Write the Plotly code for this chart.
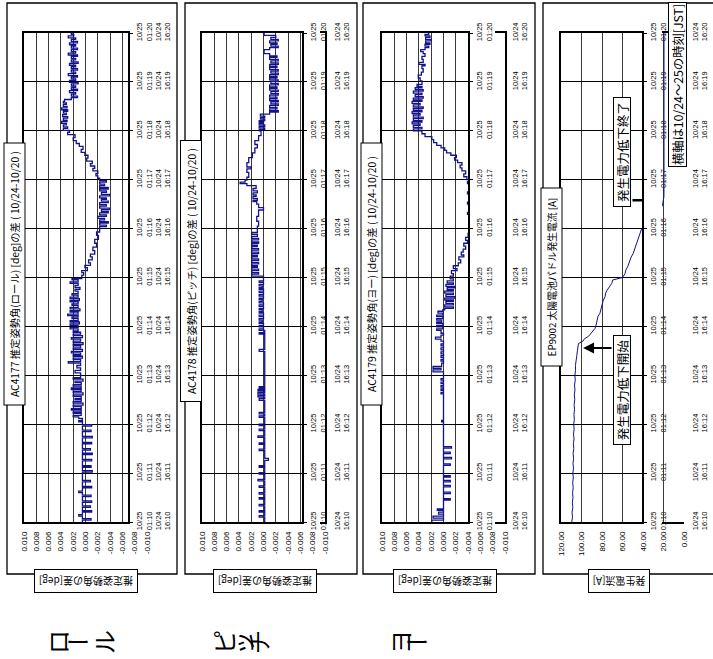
import plotly.graph_objects as go

W, H = 713, 659

# ---------------- data ----------------
# vertical axis: minutes after 10/25 01:10 JST (= 10/24 16:10 UTC)
time_ticks = [0, 1, 2, 3, 4, 5, 6, 7, 8, 9, 10]
jst_labels = ["10/25<br>01:10", "10/25<br>01:11", "10/25<br>01:12", "10/25<br>01:13",
              "10/25<br>01:14", "10/25<br>01:15", "10/25<br>01:16", "10/25<br>01:17",
              "10/25<br>01:18", "10/25<br>01:19", "10/25<br>01:20"]
utc_labels = ["10/24<br>16:10", "10/24<br>16:11", "10/24<br>16:12", "10/24<br>16:13",
              "10/24<br>16:14", "10/24<br>16:15", "10/24<br>16:16", "10/24<br>16:17",
              "10/24<br>16:18", "10/24<br>16:19", "10/24<br>16:20"]

att_ticks = [0.010, 0.008, 0.006, 0.004, 0.002, 0.000, -0.002, -0.004, -0.006, -0.008, -0.010]
att_ticktext = ["0.010", "0.008", "0.006", "0.004", "0.002", "0.000",
                "-0.002", "-0.004", "-0.006", "-0.008", "-0.010"]
cur_ticks = [120, 100, 80, 60, 40, 20, 0]
cur_ticktext = ["120.00", "100.00", "80.00", "60.00", "40.00", "20.00", "0.00"]

# (minute, deg) AC4177 roll difference
roll = [
    (0.00, 0.0005), (0.04, -0.0009), (0.07, 0.0005), (0.12, 0.0011), (0.15, 0.0005),
    (0.20, -0.0010), (0.23, 0.0005), (0.30, -0.0008), (0.33, 0.0005), (0.40, -0.0010),
    (0.43, 0.0005), (0.52, -0.0009), (0.55, 0.0005), (0.60, 0.0011), (0.63, 0.0005),
    (0.70, -0.0010), (0.73, 0.0005), (0.82, -0.0008), (0.85, 0.0005), (1.02, -0.0011),
    (1.05, 0.0005), (1.12, -0.0009), (1.15, 0.0005), (1.25, -0.0010), (1.28, 0.0005),
    (1.38, -0.0011), (1.41, 0.0005), (1.47, -0.0008), (1.50, 0.0005), (1.60, -0.0010),
    (1.63, 0.0005), (1.72, -0.0011), (1.75, 0.0005), (1.85, -0.0009), (1.88, 0.0005),
    (1.96, -0.0010), (1.99, 0.0005), (2.05, 0.0011), (2.08, 0.0005), (2.12, 0.0011),
    (2.15, 0.0020), (2.18, 0.0007), (2.22, 0.0020), (2.25, 0.0007), (2.29, 0.0023),
    (2.32, 0.0007), (2.36, 0.0020), (2.39, 0.0004), (2.43, 0.0020), (2.46, 0.0007),
    (2.50, 0.0017), (2.53, 0.0007), (2.57, 0.0020), (2.60, 0.0004), (2.64, 0.0020),
    (2.67, 0.0007), (2.71, 0.0023), (2.74, 0.0007), (2.78, 0.0020), (2.81, 0.0007),
    (2.85, 0.0017), (2.88, 0.0004), (2.92, 0.0020), (2.95, 0.0008), (3.05, 0.0017),
    (3.10, 0.0008), (3.15, 0.0014), (3.20, 0.0008), (3.25, 0.0028), (3.28, 0.0008),
    (3.32, 0.0020), (3.35, 0.0005), (3.39, 0.0020), (3.42, 0.0008), (3.46, 0.0023),
    (3.49, 0.0005), (3.53, 0.0020), (3.56, 0.0008), (3.60, 0.0020), (3.63, 0.0004),
    (3.67, 0.0020), (3.70, 0.0008), (3.74, 0.0023), (3.77, 0.0005), (3.81, 0.0020),
    (3.84, 0.0008), (3.88, 0.0020), (3.91, 0.0012), (3.95, 0.0025), (3.98, 0.0012),
    (4.02, 0.0025), (4.05, 0.0010), (4.09, 0.0025), (4.12, 0.0012), (4.16, 0.0022),
    (4.19, 0.0012), (4.22, 0.0029), (4.25, 0.0012), (4.29, 0.0025), (4.32, 0.0009),
    (4.36, 0.0025), (4.39, 0.0012), (4.43, 0.0022), (4.46, 0.0012), (4.50, 0.0025),
    (4.53, 0.0010), (4.57, 0.0025), (4.60, 0.0012), (4.64, 0.0022), (4.67, 0.0012),
    (4.72, 0.0017), (4.76, 0.0009), (4.80, 0.0017), (4.84, 0.0012), (4.88, 0.0025),
    (4.91, 0.0012), (4.95, 0.0022), (4.98, 0.0006), (5.05, 0.0003), (5.10, 0.0006),
    (5.14, -0.0003), (5.20, 0.0001), (5.25, -0.0008), (5.30, -0.0005), (5.36, -0.0011),
    (5.42, -0.0008), (5.48, -0.0015), (5.55, -0.0012), (5.62, -0.0018), (5.70, -0.0015),
    (5.78, -0.0021), (5.86, -0.0018), (5.93, -0.0023), (6.00, -0.0023), (6.04, -0.0034),
    (6.07, -0.0023), (6.11, -0.0037), (6.14, -0.0023), (6.18, -0.0031), (6.21, -0.0020),
    (6.25, -0.0034), (6.28, -0.0023), (6.32, -0.0037), (6.35, -0.0026), (6.39, -0.0039),
    (6.42, -0.0023), (6.46, -0.0034), (6.49, -0.0023), (6.53, -0.0037), (6.56, -0.0026),
    (6.60, -0.0034), (6.63, -0.0023), (6.67, -0.0039), (6.70, -0.0026), (6.74, -0.0034),
    (6.77, -0.0023), (6.81, -0.0037), (6.84, -0.0023), (6.88, -0.0031), (6.91, -0.0023),
    (6.95, -0.0034), (6.98, -0.0023), (7.03, -0.0020), (7.08, -0.0017), (7.13, -0.0020),
    (7.18, -0.0012), (7.23, -0.0015), (7.28, -0.0008), (7.33, -0.0011), (7.38, -0.0002),
    (7.44, -0.0004), (7.50, 0.0001), (7.56, 0.0007), (7.62, 0.0004), (7.68, 0.0010),
    (7.74, 0.0015), (7.80, 0.0020), (7.86, 0.0017), (7.92, 0.0029), (7.97, 0.0026),
    (8.01, 0.0036), (8.05, 0.0029), (8.08, 0.0036), (8.12, 0.0031), (8.15, 0.0039),
    (8.19, 0.0030), (8.22, 0.0036), (8.26, 0.0029), (8.29, 0.0037), (8.33, 0.0031),
    (8.36, 0.0036), (8.40, 0.0029), (8.43, 0.0039), (8.47, 0.0030), (8.50, 0.0036),
    (8.54, 0.0031), (8.57, 0.0036), (8.60, 0.0034), (8.64, 0.0023), (8.68, 0.0013),
    (8.71, 0.0023), (8.75, 0.0016), (8.78, 0.0026), (8.82, 0.0013), (8.85, 0.0023),
    (8.89, 0.0016), (8.92, 0.0023), (8.96, 0.0012), (8.99, 0.0026), (9.03, 0.0016),
    (9.06, 0.0023), (9.10, 0.0013), (9.13, 0.0028), (9.17, 0.0016), (9.20, 0.0023),
    (9.24, 0.0013), (9.27, 0.0023), (9.31, 0.0016), (9.34, 0.0026), (9.38, 0.0012),
    (9.41, 0.0023), (9.45, 0.0016), (9.48, 0.0023), (9.52, 0.0013), (9.55, 0.0028),
    (9.59, 0.0016), (9.62, 0.0023), (9.66, 0.0013), (9.69, 0.0023), (9.73, 0.0016),
    (9.76, 0.0026), (9.80, 0.0013), (9.83, 0.0023), (9.87, 0.0016), (9.90, 0.0028),
    (9.94, 0.0019), (9.97, 0.0023), (10.00, 0.0021),
]

# (minute, deg) AC4178 pitch difference
pitch = [
    (0.00, -0.0002), (0.10, 0.0007), (0.13, -0.0002), (0.20, 0.0007), (0.23, -0.0002),
    (0.33, 0.0007), (0.36, -0.0002), (0.47, 0.0007), (0.50, -0.0002), (0.57, 0.0007),
    (0.60, -0.0002), (0.71, 0.0007), (0.74, -0.0002), (0.84, 0.0009), (0.87, -0.0002),
    (0.98, 0.0007), (1.01, -0.0002), (1.12, 0.0007), (1.15, -0.0002), (1.26, -0.0008),
    (1.30, -0.0002), (1.46, 0.0007), (1.49, -0.0002), (1.59, 0.0007), (1.62, -0.0002),
    (1.73, 0.0009), (1.76, -0.0002), (1.87, 0.0007), (1.90, -0.0002), (1.97, 0.0007),
    (2.00, -0.0002), (2.14, 0.0007), (2.17, -0.0002), (2.21, 0.0007), (2.24, -0.0002),
    (2.49, 0.0007), (2.53, -0.0002), (2.56, 0.0009), (2.59, -0.0002), (2.62, 0.0009),
    (2.65, -0.0002), (2.68, 0.0009), (2.71, -0.0002), (2.74, 0.0007), (2.77, -0.0002),
    (3.49, 0.0007), (3.53, -0.0002), (3.84, 0.0007), (3.87, -0.0002), (3.92, 0.0007),
    (3.95, 0.0000), (3.99, 0.0007), (4.02, 0.0000), (4.06, 0.0007), (4.09, 0.0002),
    (4.13, 0.0007), (4.16, 0.0000), (4.20, 0.0007), (4.23, 0.0000), (4.27, 0.0007),
    (4.30, 0.0002), (4.34, 0.0007), (4.37, 0.0000), (4.41, 0.0007), (4.44, 0.0000),
    (4.48, 0.0007), (4.51, 0.0002), (4.55, 0.0007), (4.58, 0.0000), (4.62, 0.0007),
    (4.65, 0.0000), (4.69, 0.0007), (4.72, 0.0000), (4.76, 0.0007), (4.79, 0.0002),
    (4.83, 0.0007), (4.86, 0.0000), (4.90, 0.0007), (4.93, 0.0000), (5.00, 0.0000),
    (5.03, 0.0019), (5.07, 0.0008), (5.10, 0.0019), (5.14, 0.0008), (5.17, 0.0019),
    (5.21, 0.0010), (5.24, 0.0019), (5.28, 0.0008), (5.31, 0.0019), (5.35, 0.0008),
    (5.38, 0.0019), (5.42, 0.0010), (5.45, 0.0019), (5.49, 0.0008), (5.52, 0.0019),
    (5.56, 0.0008), (5.59, 0.0019), (5.63, 0.0010), (5.66, 0.0019), (5.70, 0.0008),
    (5.73, 0.0019), (5.77, 0.0008), (5.80, 0.0019), (5.84, 0.0010), (5.88, 0.0019),
    (5.92, 0.0010), (5.96, 0.0010), (6.05, 0.0008), (6.15, 0.0011), (6.25, 0.0008),
    (6.38, 0.0000), (6.43, 0.0008), (6.50, 0.0011), (6.55, 0.0017), (6.58, 0.0010),
    (6.62, 0.0017), (6.66, 0.0012), (6.69, 0.0017), (6.73, 0.0010), (6.77, 0.0017),
    (6.82, 0.0012), (6.88, 0.0027), (6.92, 0.0038), (6.95, 0.0030), (6.99, 0.0027),
    (7.05, 0.0024), (7.15, 0.0027), (7.22, 0.0020), (7.26, 0.0027), (7.35, 0.0024),
    (7.45, 0.0018), (7.55, 0.0014), (7.65, 0.0010), (7.72, 0.0014), (7.80, 0.0008),
    (7.90, 0.0004), (8.00, 0.0007), (8.03, -0.0002), (8.06, 0.0007), (8.09, -0.0002),
    (8.12, 0.0007), (8.15, 0.0000), (8.18, 0.0007), (8.21, -0.0002), (8.24, 0.0005),
    (8.27, -0.0002), (8.30, 0.0005), (8.34, -0.0010), (8.38, -0.0024), (8.41, -0.0010),
    (8.45, -0.0022), (8.48, -0.0010), (8.52, -0.0024), (8.55, -0.0012), (8.59, -0.0024),
    (8.62, -0.0010), (8.66, -0.0022), (8.69, -0.0010), (8.73, -0.0024), (8.76, -0.0012),
    (8.80, -0.0024), (8.83, -0.0010), (8.87, -0.0022), (8.90, -0.0010), (8.94, -0.0024),
    (8.97, -0.0012), (9.01, -0.0024), (9.04, -0.0010), (9.08, -0.0022), (9.11, -0.0010),
    (9.15, -0.0024), (9.18, -0.0012), (9.22, -0.0024), (9.25, -0.0010), (9.29, -0.0022),
    (9.32, -0.0010), (9.36, -0.0024), (9.39, -0.0012), (9.43, -0.0024), (9.46, -0.0010),
    (9.50, -0.0022), (9.53, -0.0010), (9.58, -0.0001), (9.66, -0.0010), (9.70, -0.0024),
    (9.73, -0.0012), (9.77, -0.0022), (9.80, -0.0010), (9.84, -0.0024), (9.87, -0.0012),
    (9.91, -0.0020), (9.95, -0.0001), (10.00, -0.0001),
]

# (minute, deg) AC4179 yaw difference
yaw = [
    (0.00, 0.0019), (0.04, 0.0000), (0.08, 0.0017), (0.12, 0.0000), (0.16, 0.0008),
    (0.20, 0.0000), (0.24, 0.0010), (0.27, 0.0000), (0.45, -0.0011), (0.48, 0.0000),
    (0.58, -0.0011), (0.61, 0.0000), (0.72, -0.0011), (0.75, 0.0000), (0.82, -0.0011),
    (0.85, 0.0000), (0.92, -0.0011), (0.95, 0.0000), (1.16, -0.0011), (1.19, 0.0000),
    (1.29, -0.0013), (1.32, 0.0000), (1.40, -0.0011), (1.43, 0.0000), (1.51, -0.0013),
    (1.54, 0.0000), (2.05, 0.0003), (2.08, 0.0000), (2.62, 0.0004), (2.65, 0.0000),
    (2.69, 0.0004), (2.72, 0.0000), (2.76, 0.0004), (2.79, 0.0000), (2.83, 0.0004),
    (2.86, 0.0000), (2.90, 0.0004), (2.93, 0.0000), (3.07, 0.0017), (3.11, 0.0004),
    (3.14, 0.0017), (3.18, 0.0003), (3.25, 0.0000), (3.29, 0.0004), (3.32, 0.0000),
    (3.36, 0.0004), (3.40, 0.0000), (3.44, 0.0004), (3.48, 0.0000), (3.52, 0.0004),
    (3.56, 0.0000), (3.60, 0.0004), (3.64, 0.0000), (3.70, 0.0004), (3.74, 0.0013),
    (3.78, 0.0004), (3.82, 0.0000), (3.86, 0.0004), (3.92, 0.0011), (3.95, 0.0001),
    (3.99, 0.0011), (4.02, 0.0001), (4.06, 0.0011), (4.09, 0.0003), (4.13, 0.0011),
    (4.16, 0.0001), (4.20, 0.0011), (4.23, 0.0001), (4.27, 0.0009), (4.31, 0.0001),
    (4.34, -0.0002), (4.37, -0.0016), (4.40, -0.0002), (4.44, -0.0016), (4.47, -0.0004),
    (4.51, -0.0016), (4.54, -0.0002), (4.58, -0.0019), (4.61, -0.0004), (4.65, -0.0016),
    (4.68, -0.0002), (4.72, -0.0016), (4.75, -0.0006), (4.79, -0.0019), (4.82, -0.0004),
    (4.86, -0.0016), (4.89, -0.0006), (4.93, -0.0016), (4.97, -0.0011), (5.03, -0.0016),
    (5.08, -0.0013), (5.14, -0.0022), (5.18, -0.0016), (5.24, -0.0024), (5.30, -0.0028),
    (5.36, -0.0025), (5.42, -0.0033), (5.46, -0.0029), (5.52, -0.0032), (5.58, -0.0036),
    (5.64, -0.0033), (5.70, -0.0039), (5.76, -0.0036), (5.82, -0.0040), (5.90, -0.0041),
    (5.98, -0.0044), (6.06, -0.0041), (6.12, -0.0046), (6.16, -0.0041), (6.19, -0.0047),
    (6.22, -0.0041), (6.26, -0.0046), (6.29, -0.0039), (6.33, -0.0047), (6.36, -0.0041),
    (6.40, -0.0046), (6.43, -0.0041), (6.47, -0.0047), (6.50, -0.0039), (6.54, -0.0046),
    (6.57, -0.0041), (6.61, -0.0047), (6.64, -0.0041), (6.68, -0.0046), (6.71, -0.0039),
    (6.75, -0.0047), (6.78, -0.0041), (6.82, -0.0046), (6.85, -0.0041), (6.89, -0.0047),
    (6.92, -0.0039), (6.96, -0.0044), (7.00, -0.0038), (7.06, -0.0033), (7.12, -0.0036),
    (7.18, -0.0030), (7.24, -0.0027), (7.30, -0.0030), (7.35, -0.0023), (7.40, -0.0018),
    (7.45, -0.0021), (7.50, -0.0012), (7.55, -0.0005), (7.60, -0.0002), (7.65, 0.0004),
    (7.70, 0.0011), (7.76, 0.0016), (7.82, 0.0019), (7.88, 0.0030), (7.94, 0.0035),
    (8.00, 0.0049), (8.04, 0.0035), (8.07, 0.0049), (8.11, 0.0038), (8.14, 0.0051),
    (8.18, 0.0035), (8.21, 0.0049), (8.25, 0.0033), (8.28, 0.0049), (8.32, 0.0038),
    (8.35, 0.0051), (8.39, 0.0035), (8.42, 0.0049), (8.46, 0.0033), (8.49, 0.0049),
    (8.53, 0.0038), (8.56, 0.0051), (8.60, 0.0035), (8.63, 0.0049), (8.67, 0.0033),
    (8.70, 0.0046), (8.74, 0.0035), (8.77, 0.0049), (8.81, 0.0033), (8.84, 0.0046),
    (8.88, 0.0035), (8.91, 0.0043), (8.95, 0.0035), (9.02, 0.0038), (9.08, 0.0041),
    (9.14, 0.0036), (9.20, 0.0033), (9.27, 0.0035), (9.33, 0.0030), (9.36, 0.0040),
    (9.40, 0.0033), (9.46, 0.0035), (9.52, 0.0030), (9.58, 0.0033), (9.62, 0.0037),
    (9.66, 0.0030), (9.70, 0.0024), (9.73, 0.0030), (9.77, 0.0022), (9.80, 0.0029),
    (9.84, 0.0020), (9.87, 0.0029), (9.91, 0.0022), (9.94, 0.0030), (9.97, 0.0024),
    (10.00, 0.0024),
]

# (minute, A) EP9002 solar paddle generated current
current = [
    (0.0, 109.5), (0.1, 108.8), (0.2, 109.2), (0.3, 108.5), (0.4, 108.9), (0.5, 108.3),
    (0.6, 108.7), (0.7, 108.1), (0.8, 108.6), (0.9, 108.0), (1.0, 108.4), (1.1, 107.8),
    (1.2, 108.3), (1.3, 107.7), (1.4, 108.2), (1.5, 107.5), (1.6, 107.9), (1.7, 107.3),
    (1.8, 107.8), (1.9, 107.2), (2.0, 107.6), (2.1, 107.0), (2.2, 107.4), (2.3, 106.8),
    (2.4, 107.2), (2.5, 106.6), (2.6, 107.0), (2.7, 106.4), (2.8, 106.8), (2.9, 106.1),
    (3.0, 106.5), (3.1, 105.8), (3.2, 105.9), (3.3, 105.0), (3.4, 104.6), (3.5, 104.0),
    (3.6, 103.5), (3.65, 103.0), (3.70, 98.5), (3.75, 97.0), (3.80, 93.0), (3.85, 91.0),
    (3.90, 89.0), (3.96, 86.8), (4.05, 85.5), (4.13, 84.4), (4.20, 84.0), (4.27, 82.0),
    (4.35, 81.0), (4.44, 79.5), (4.52, 79.0), (4.61, 77.0), (4.68, 76.5), (4.74, 75.0),
    (4.80, 73.0), (4.88, 70.5), (4.95, 69.5), (5.00, 60.0), (5.08, 57.5), (5.15, 56.8),
    (5.22, 55.0), (5.29, 54.0), (5.36, 52.7), (5.42, 51.5), (5.49, 49.6), (5.56, 48.5),
    (5.63, 47.0), (5.70, 46.0), (5.77, 45.0), (5.84, 44.0), (5.90, 43.0), (6.00, 41.3),
    (6.08, 38.0), (6.16, 34.0), (6.24, 30.0), (6.32, 26.0), (6.40, 23.0), (6.48, 21.0),
    (6.56, 20.0), (6.65, 19.6), (7.0, 19.5), (7.5, 19.6), (8.0, 19.5), (8.5, 19.6),
    (9.0, 19.5), (9.5, 19.6), (10.0, 19.5),
]

# ---------------- styling / layout ----------------
NAVY = "#12128a"
FONT = "Liberation Sans, Arial, sans-serif"
CJK = "Noto Sans CJK JP, sans-serif"
GRID = "#3a3a3a"


def fx(p):
    return p / W


def fy(p):
    return 1 - p / H


Y_TOP, Y_BOT = 33, 522
YDOM = [fy(Y_BOT), fy(Y_TOP)]

panels = [
    dict(data=roll, x0=24, x1=147, b0=128, b1=None, lo=0.010, hi=-0.010,
         ticks=att_ticks, text=att_ticktext, pos2=152, shape="vh", width=1.3),
    dict(data=pitch, x0=202, x1=325, b0=302, b1=320, lo=0.010, hi=-0.010,
         ticks=att_ticks, text=att_ticktext, pos2=331, shape="vh", width=1.3),
    dict(data=yaw, x0=382, x1=505, b0=468, b1=495, lo=0.010, hi=-0.010,
         ticks=att_ticks, text=att_ticktext, pos2=509, shape="vh", width=1.3),
    dict(data=current, x0=561, x1=684, b0=642, b1=662, lo=120, hi=0,
         ticks=cur_ticks, text=cur_ticktext, pos2=689, shape="linear", width=1.0),
]

fig = go.Figure()
lay = {}
for i, p in enumerate(panels):
    n = 3 * i + 1
    t = [a for a, b in p["data"]]
    v = [b for a, b in p["data"]]

    def val(px, p=p):
        return p["lo"] + (p["hi"] - p["lo"]) * (px - p["x0"]) / (p["x1"] - p["x0"])

    # main plot area (left of the label band)
    lay[f"xaxis{n}"] = dict(domain=[fx(p["x0"]), fx(p["b0"])], range=[p["lo"], val(p["b0"])],
                            anchor=f"y{n}", tickvals=p["ticks"], showticklabels=False, ticks="",
                            showgrid=True, gridcolor=GRID, gridwidth=1, zeroline=False,
                            showline=True, linecolor="black", linewidth=1.5, mirror=True)
    lay[f"yaxis{n}"] = dict(domain=YDOM, range=[0, 10], anchor=f"x{n}", side="right",
                            tickvals=time_ticks, ticktext=jst_labels, tickangle=-90,
                            ticks="outside", ticklen=3, tickcolor="black", tickwidth=1,
                            tickfont=dict(size=7.5, color="black", family=FONT),
                            showgrid=True, gridcolor="black", gridwidth=1, zeroline=False,
                            showline=True, linecolor="black", linewidth=1.5, mirror=True)
    fig.add_trace(go.Scatter(x=v, y=t, mode="lines", xaxis=f"x{n}", yaxis=f"y{n}",
                             line=dict(color=NAVY, width=p["width"], shape=p["shape"]),
                             hoverinfo="skip", showlegend=False))

    # value tick labels across the full value range + second time label column
    lay[f"xaxis{n+1}"] = dict(domain=[fx(p["x0"]), fx(p["x1"])], range=[p["lo"], p["hi"]],
                              anchor=f"y{n+1}", tickvals=p["ticks"], ticktext=p["text"],
                              tickangle=-90, ticks="", ticklabelstandoff=7,
                              tickfont=dict(size=8, color="black", family=FONT),
                              showgrid=False, zeroline=False, showline=False)
    lay[f"yaxis{n+1}"] = dict(domain=YDOM, range=[0, 10], anchor="free", position=fx(p["pos2"]),
                              side="right", tickvals=time_ticks, ticktext=utc_labels,
                              tickangle=-90, ticks="",
                              tickfont=dict(size=7.5, color="black", family=FONT),
                              showgrid=False, zeroline=False, showline=False)
    fig.add_trace(go.Scatter(x=[], y=[], xaxis=f"x{n+1}", yaxis=f"y{n+1}",
                             hoverinfo="skip", showlegend=False))

    # thin strip of the plot visible right of the label band
    if p["b1"]:
        lay[f"xaxis{n+2}"] = dict(domain=[fx(p["b1"]), fx(p["x1"])], range=[val(p["b1"]), p["hi"]],
                                  anchor=f"y{n+2}", tickvals=p["ticks"], showticklabels=False,
                                  ticks="", showgrid=True, gridcolor=GRID, gridwidth=1,
                                  zeroline=False, showline=True, linecolor="black",
                                  linewidth=1.5, mirror=True)
        lay[f"yaxis{n+2}"] = dict(domain=YDOM, range=[0, 10], anchor=f"x{n+2}", side="right",
                                  showticklabels=False, ticks="", showgrid=False,
                                  zeroline=False, showline=(i != 3), linecolor="black",
                                  linewidth=1.5)
        fig.add_trace(go.Scatter(x=v, y=t, mode="lines", xaxis=f"x{n+2}", yaxis=f"y{n+2}",
                                 line=dict(color=NAVY, width=p["width"], shape=p["shape"]),
                                 hoverinfo="skip", showlegend=False))

# chart frames
shapes = []
for (a, b) in [(7, 177), (185, 357), (363, 535), (543, 716)]:
    shapes.append(dict(type="rect", xref="paper", yref="paper", x0=fx(a), x1=fx(b),
                       y0=fy(574), y1=fy(3), line=dict(color="black", width=1.3),
                       fillcolor="rgba(0,0,0,0)", layer="below"))


def box(text, cx, cy, angle, size, length, thick):
    return dict(text=text, x=fx(cx), y=fy(cy), xref="paper", yref="paper",
                showarrow=False, textangle=angle, width=length - 2, height=thick - 2,
                font=dict(family=CJK, size=size, color="black"), bordercolor="black",
                borderwidth=1, borderpad=0, bgcolor="white", xanchor="center",
                yanchor="middle", align="center", valign="middle")


ann = [
    box("AC4177 推定姿勢角(ロール) [deg]の差 ( 10/24-10/20 )", 14, 274.5, -90, 10.3, 263, 22),
    box("AC4178 推定姿勢角(ピッチ) [deg]の差 ( 10/24-10/20 )", 191, 271, -90, 10.3, 262, 22),
    box("AC4179 推定姿勢角(ヨー) [deg]の差 ( 10/24-10/20 )", 371, 273.5, -90, 10.3, 263, 22),
    box("EP9002 太陽電池パドル発生電流 [A]", 551, 277.5, -90, 9.8, 179, 22),
    box("推定姿勢角の差[deg]", 86, 581, 180, 10, 104, 24),
    box("推定姿勢角の差[deg]", 265, 581, 180, 10, 104, 24),
    box("推定姿勢角の差[deg]", 445, 581, 180, 10, 104, 24),
    box("発生電流[A]", 619, 581, 180, 10, 62, 24),
    box("発生電力低下開始", 622, 390, -90, 12.5, 110, 18),
    box("発生電力低下終了", 622, 152, -90, 12.5, 110, 18),
    box("横軸は10/24～25の時刻[JST]", 677.5, 84.5, -90, 12.3, 165, 19),
]

# arrow to the start of the power decrease, connector to its end
ann.append(dict(text="", x=98.5, y=3.56, xref="x10", yref="y10", ax=30, ay=0,
                showarrow=True, arrowhead=2, arrowsize=1.1, arrowwidth=2, arrowcolor="black"))
ann.append(dict(text="", x=41.0, y=6.58, xref="x10", yref="y10", ax=-11, ay=0,
                showarrow=True, arrowhead=0, arrowwidth=2.5, arrowcolor="black"))

# big axis-name characters below each chart (vertical writing, rotated with the page)
for ch, cx, cy, ang in [("ロ", 57, 642, -90), ("ー", 78, 640, 0), ("ル", 103, 642, -90),
                        ("ピ", 223, 642, -90), ("ッ", 241, 643, -90), ("チ", 257, 642, -90),
                        ("ヨ", 399, 642, -90), ("ー", 417, 640, 0)]:
    ann.append(dict(text=ch, x=fx(cx), y=fy(cy), xref="paper", yref="paper", showarrow=False,
                    textangle=ang, font=dict(family=CJK, size=24, color="black"),
                    xanchor="center", yanchor="middle"))

fig.update_layout(
    template="none",
    width=W, height=H,
    margin=dict(l=0, r=0, t=0, b=0, pad=0),
    paper_bgcolor="white", plot_bgcolor="rgba(0,0,0,0)",
    showlegend=False,
    font=dict(family=FONT, color="black", size=8),
    shapes=shapes,
    annotations=ann,
    **lay,
)

fig.write_html("out.html")
